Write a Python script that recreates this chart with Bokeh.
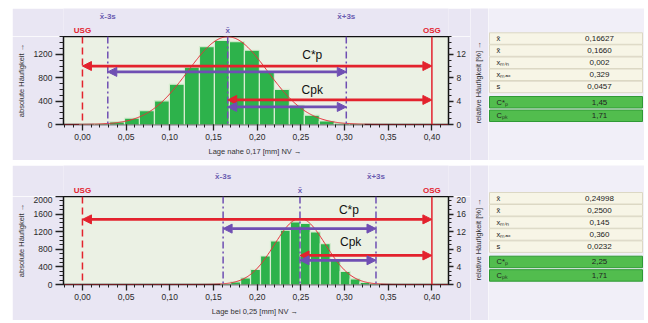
import numpy as np
from bokeh.plotting import figure
from bokeh.models import (Range1d, LinearAxis, FixedTicker, CustomJSTickFormatter,
                          Span, Label, Arrow, NormalHead, Spacer)
from bokeh.layouts import row, column
from bokeh.embed import file_html
from bokeh.resources import INLINE
from bokeh.core.properties import value

FONT = "Liberation Sans"
RED = "#e3222d"
PURPLE = "#6f4fb3"
LBL_PURPLE = "#6a5cb0"
GREEN = "#2db24b"
PANEL = "#e9e6f3"
PLOTBG = "#ebf1e4"
TBG = "#f1eff8"

# ---------------- data ----------------
usg = 0.0
osg = 0.40
x_ticks = [0.0, 0.05, 0.10, 0.15, 0.20, 0.25, 0.30, 0.35, 0.40]

# top chart: position near 0.17
top_centers = [0.0052, 0.0223, 0.0395, 0.0567, 0.0738, 0.0910, 0.1081, 0.1253, 0.1425,
               0.1596, 0.1768, 0.1940, 0.2111, 0.2283, 0.2454, 0.2626, 0.2797, 0.2969, 0.3140]
top_counts = [3, 12, 45, 110, 235, 405, 690, 980, 1330,
              1440, 1415, 1270, 900, 600, 330, 160, 60, 22, 6]
top_bin_width = 0.01716
top_mean = 0.16627
top_minus3s = 0.029
top_plus3s = 0.302
top_curve_sigma = 0.0457
top_curve_peak = 1500
top_abs_ticks = [0, 400, 800, 1200]
top_rel_ticks = [0, 4, 8, 12]

# bottom chart: position at 0.25
bot_centers = [0.1639, 0.1753, 0.1867, 0.1981, 0.2095, 0.2209, 0.2323, 0.2437,
               0.2551, 0.2665, 0.2779, 0.2893, 0.3007, 0.3121, 0.3235, 0.3349]
bot_counts = [20, 60, 152, 343, 648, 990, 1234, 1424,
              1387, 1196, 930, 549, 300, 130, 50, 15]
bot_bin_width = 0.0114
bot_mean = 0.249
bot_minus3s = 0.161
bot_plus3s = 0.336
bot_curve_sigma = 0.0292
bot_curve_peak = 1500
bot_abs_ticks = [0, 400, 800, 1200, 1600, 2000]
bot_rel_ticks = [0, 4, 8, 12, 16, 20]

table_labels = ["x\u0304", "x\u0303", "x\u2098\u1d62\u2099", "x\u2098\u2090\u2093", "s",
                "C*\u209a", "C\u209a\u2096"]
top_values = ["0,16627", "0,1660", "0,002", "0,329", "0,0457", "1,45", "1,71"]
bot_values = ["0,24998", "0,2500", "0,145", "0,360", "0,0232", "2,25", "1,71"]

CH_W = 458      # chart figure width
MB_L = 51
MB_R = 22


def style_axis(a, tick_out, minor_out):
    a.axis_line_color = None
    a.major_tick_in = 0
    a.minor_tick_in = 0
    a.major_tick_out = tick_out
    a.minor_tick_out = minor_out
    a.major_tick_line_color = "#222222"
    a.minor_tick_line_color = "#222222"
    a.major_tick_line_width = 1.3
    a.minor_tick_line_width = 1
    a.major_label_text_font = FONT
    a.major_label_text_font_size = "8.5px"
    a.major_label_text_color = "#2a2a2a"
    a.major_label_standoff = 3
    a.axis_label_text_font = FONT
    a.axis_label_text_font_size = "7.5px"
    a.axis_label_text_font_style = "normal"
    a.axis_label_text_color = "#333333"


def make_header(xr, height, mean, m3s, p3s):
    h = figure(width=CH_W, height=height, x_range=xr, y_range=Range1d(0, height),
               output_backend="svg", toolbar_location=None,
               min_border_left=MB_L, min_border_right=MB_R, min_border_top=0, min_border_bottom=0,
               x_axis_location=None, y_axis_location=None,
               border_fill_color=PANEL, background_fill_color=PANEL, outline_line_color=None)
    h.grid.visible = False
    h.text(x=[usg, osg], y=[6, 6], text=["USG", "OSG"], text_font=value(FONT),
           text_font_size="8px", text_font_style="bold", text_color=RED,
           text_align="center", text_baseline="middle")
    h.text(x=[mean, m3s, p3s], y=[6, 20, 20], text=["x\u0304", "x\u0304-3s", "x\u0304+3s"],
           text_font=value(FONT), text_font_size="8px", text_font_style="bold",
           text_color=LBL_PURPLE, text_align="center", text_baseline="middle")
    return h


def make_chart(xr, height, mbb, ymax, relmax, abs_ticks, rel_ticks, centers, counts, bw,
               mean, m3s, p3s, sig, peak, xlabel, arrows_y, texts):
    p = figure(width=CH_W, height=height, x_range=xr, y_range=Range1d(0, ymax),
               output_backend="svg", toolbar_location=None,
               min_border_left=MB_L, min_border_right=MB_R, min_border_top=0, min_border_bottom=mbb,
               border_fill_color=PANEL, background_fill_color=PLOTBG,
               outline_line_color="#111111", outline_line_width=1.5)
    p.grid.visible = False

    p.xaxis.ticker = FixedTicker(ticks=x_ticks,
                                 minor_ticks=[round(-0.02 + 0.01 * i, 2) for i in range(44)])
    p.xaxis.formatter = CustomJSTickFormatter(code="return tick.toFixed(2).replace('.', ',');")
    p.xaxis.axis_label = xlabel
    style_axis(p.xaxis[0], 6, 3)
    p.xaxis.axis_label_standoff = 4

    p.yaxis.ticker = FixedTicker(ticks=abs_ticks,
                                 minor_ticks=list(range(0, int(ymax) + 1, 100)))
    p.yaxis.axis_label = "absolute H\u00e4ufigkeit \u2192"
    style_axis(p.yaxis[0], 8, 4)
    p.yaxis.axis_label_standoff = 5

    p.extra_y_ranges = {"rel": Range1d(0, relmax)}
    ra = LinearAxis(y_range_name="rel",
                    ticker=FixedTicker(ticks=rel_ticks, minor_ticks=list(range(0, int(relmax) + 1))))
    style_axis(ra, 5, 3)
    p.add_layout(ra, "right")

    p.vbar(x=centers, top=counts, width=bw, fill_color=GREEN, line_color="#d6ecd0", line_width=1.2)

    xs = np.linspace(-0.0217, 0.419, 400)
    ys = peak * np.exp(-0.5 * ((xs - mean) / sig) ** 2)
    p.line(xs, ys, line_color="#e5303a", line_width=1)

    p.add_layout(Span(location=usg, dimension="height", line_color=RED, line_width=1.5, line_dash="7 4"))
    p.add_layout(Span(location=osg, dimension="height", line_color=RED, line_width=1.5))
    for loc in (m3s, mean, p3s):
        p.add_layout(Span(location=loc, dimension="height", line_color=PURPLE, line_width=1.5,
                          line_dash="7 3 2 3"))

    def arrow(x0, x1, y, col):
        p.add_layout(Arrow(start=NormalHead(size=9, fill_color=col, line_color=col),
                           end=NormalHead(size=9, fill_color=col, line_color=col),
                           x_start=x0, x_end=x1, y_start=y, y_end=y,
                           line_color=col, line_width=2.8))
    arrow(usg, osg, arrows_y[0], RED)
    arrow(m3s, p3s, arrows_y[1], PURPLE)
    arrow(mean, osg, arrows_y[2], RED)
    arrow(mean, p3s, arrows_y[3], PURPLE)

    for (tx, ty, tt) in texts:
        p.add_layout(Label(x=tx, y=ty, text=tt, text_font=FONT, text_font_size="12px",
                           text_color="#111111", text_align="center", text_baseline="middle"))
    return p


def make_rtitle(height, cy):
    r = figure(width=18, height=height, x_range=Range1d(0, 18), y_range=Range1d(0, height),
               output_backend="svg", toolbar_location=None, min_border=0,
               min_border_left=0, min_border_right=0, min_border_top=0, min_border_bottom=0,
               x_axis_location=None, y_axis_location=None,
               border_fill_color=PANEL, background_fill_color=PANEL, outline_line_color=None)
    r.grid.visible = False
    r.text(x=[8], y=[cy], text=["relative H\u00e4ufigkeit [%] \u2192"], angle=np.pi / 2,
           text_font=value(FONT), text_font_size="7.5px", text_color="#333333",
           text_align="center", text_baseline="middle")
    return r


def make_table(height, values, tops):
    t = figure(width=156, height=height, x_range=Range1d(0, 156), y_range=Range1d(height, 0),
               output_backend="svg", toolbar_location=None, min_border=0,
               min_border_left=0, min_border_right=0, min_border_top=0, min_border_bottom=0,
               x_axis_location=None, y_axis_location=None,
               border_fill_color=TBG, background_fill_color=TBG, outline_line_color=None)
    t.grid.visible = False
    rh = 11.5
    bottoms = [v + rh for v in tops]
    fills = ["#f7f5e6"] * 5 + ["#52bd4e"] * 2
    lines = ["#dcd8c4"] * 5 + ["#2f9a35"] * 2
    t.quad(left=1, right=154, top=tops, bottom=bottoms, fill_color=fills, line_color=lines)
    cy = [v + rh / 2 for v in tops]
    t.text(x=8, y=cy, text=table_labels, text_font=value(FONT), text_font_size="7.5px",
           text_color="#222222", text_baseline="middle")
    t.text(x=111, y=cy, text=values, text_font=value(FONT), text_font_size="8px",
           text_color="#222222", text_baseline="middle", text_align="center")
    return t


xr1 = Range1d(-0.0217, 0.419)
h1 = make_header(xr1, 28, top_mean, top_minus3s, top_plus3s)
f1 = make_chart(xr1, 124, 36, 1505, 15.05, top_abs_ticks, top_rel_ticks, top_centers, top_counts,
                top_bin_width, top_mean, top_minus3s, top_plus3s, top_curve_sigma, top_curve_peak,
                "Lage nahe 0,17 [mm]  NV \u2192", [1000, 900, 420, 300],
                [(0.263, 1190, "C*p"), (0.263, 590, "Cpk")])
r1 = make_rtitle(152, 78)
t1 = make_table(152, top_values, [24.3, 36.3, 48.5, 60.5, 72.7, 88, 101.5])

xr2 = Range1d(-0.0217, 0.419)
h2 = make_header(xr2, 31, bot_mean, bot_minus3s, bot_plus3s)
f2 = make_chart(xr2, 124, 36, 2000, 20, bot_abs_ticks, bot_rel_ticks, bot_centers, bot_counts,
                bot_bin_width, bot_mean, bot_minus3s, bot_plus3s, bot_curve_sigma, bot_curve_peak,
                "Lage bei 0,25 [mm]  NV \u2192", [1480, 1270, 660, 550],
                [(0.305, 1690, "C*p"), (0.307, 970, "Cpk")])
r2 = make_rtitle(155, 81)
t2 = make_table(155, bot_values, [27, 39, 51.2, 63.2, 75.4, 90.7, 104.2])

layout = column(Spacer(height=8),
                row(Spacer(width=12), column(h1, f1), column(r1), column(t1)),
                Spacer(height=5),
                row(Spacer(width=12), column(h2, f2), column(r2), column(t2)))

open("out.html", "w").write(file_html(layout, INLINE))
